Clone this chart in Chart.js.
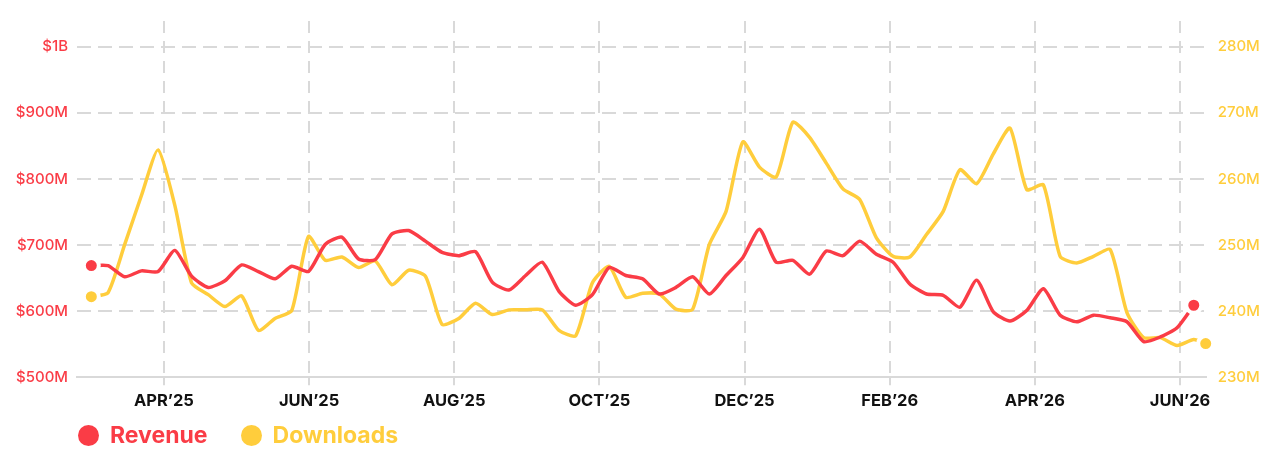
<!DOCTYPE html>
<html>
<head>
<meta charset="utf-8">
<script src="https://cdn.jsdelivr.net/npm/chart.js@4"></script>
<style>
  body { margin: 0; background: #fff; font-family: Inter, sans-serif; }
  #wrap { position: relative; width: 1280px; height: 461px; }
  .legend { position: absolute; left: 78px; top: 421px; display: flex; align-items: center; font: 700 23px Inter, sans-serif; }
  .legend span.dot { width: 21px; height: 21px; border-radius: 50%; display: inline-block; margin-right: 11px; }
  .legend .item { display: flex; align-items: center; margin-right: 33px; }
</style>
</head>
<body>
<div id="wrap">
  <canvas id="chart" width="1280" height="461"></canvas>
  <div class="legend">
    <div class="item" style="color:#FA3C46"><span class="dot" style="background:#FA3C46"></span>Revenue</div>
    <div class="item" style="color:#FFCD3C"><span class="dot" style="background:#FFCD3C"></span>Downloads</div>
  </div>
</div>
<script>
// weekly data, first week starts 2025-03-01
var startDate = '2025-03-01';
var weeks = [
  '2025-03-01','2025-03-08','2025-03-15','2025-03-22','2025-03-29',
  '2025-04-05','2025-04-12','2025-04-19','2025-04-26',
  '2025-05-03','2025-05-10','2025-05-17','2025-05-24','2025-05-31',
  '2025-06-07','2025-06-14','2025-06-21','2025-06-28',
  '2025-07-05','2025-07-12','2025-07-19','2025-07-26',
  '2025-08-02','2025-08-09','2025-08-16','2025-08-23','2025-08-30',
  '2025-09-06','2025-09-13','2025-09-20','2025-09-27',
  '2025-10-04','2025-10-11','2025-10-18','2025-10-25',
  '2025-11-01','2025-11-08','2025-11-15','2025-11-22','2025-11-29',
  '2025-12-06','2025-12-13','2025-12-20','2025-12-27',
  '2026-01-03','2026-01-10','2026-01-17','2026-01-24','2026-01-31',
  '2026-02-07','2026-02-14','2026-02-21','2026-02-28',
  '2026-03-07','2026-03-14','2026-03-21','2026-03-28',
  '2026-04-04','2026-04-11','2026-04-18','2026-04-25',
  '2026-05-02','2026-05-09','2026-05-16','2026-05-23','2026-05-30',
  '2026-06-06'
];

// revenue in $M
var revenue = [
  669, 669, 652, 661, 660, 692, 653, 636, 646, 670,
  660, 649, 668, 660, 701, 712, 679, 678, 717, 722,
  706, 689, 684, 690, 644, 632, 654, 674, 630, 609,
  625, 666, 654, 649, 626, 636, 652, 626, 654, 681,
  724, 674, 677, 656, 691, 684, 706, 686, 674, 641,
  626, 624, 606, 647, 599, 585, 601, 634, 594, 584,
  594, 590, 584, 554, 561, 575, 609
];

// downloads in M
var downloads = [
  242.2, 242.8, 250.1, 257.5, 264.4, 256.0, 244.3, 242.5, 240.7, 242.3,
  237.1, 238.9, 240.1, 251.3, 247.7, 248.2, 246.6, 247.6, 244.0, 246.2,
  245.3, 238.0, 238.9, 241.2, 239.5, 240.2, 240.2, 240.2, 237.1, 236.3,
  244.3, 246.8, 242.1, 242.7, 242.6, 240.3, 240.3, 250.1, 255.1, 265.6,
  261.8, 260.3, 268.6, 266.3, 262.4, 258.5, 256.9, 251.1, 248.3, 248.2,
  251.6, 255.1, 261.4, 259.3, 263.8, 267.7, 258.4, 259.1, 248.3, 247.3,
  248.3, 249.3, 239.8, 236.0, 236.0, 234.8, 235.7
];
// latest partial week for downloads
var latestDate = '2026-06-11';
var latestDownloads = 235.1;

var tickMonths = ['2025-04','2025-06','2025-08','2025-10','2025-12','2026-02','2026-04','2026-06'];
var tickLabels = ['APR’25','JUN’25','AUG’25','OCT’25','DEC’25','FEB’26','APR’26','JUN’26'];

var revenueTicks = [500, 600, 700, 800, 900, 1000];
var revenueTickLabels = ['$500M', '$600M', '$700M', '$800M', '$900M', '$1B'];
var downloadTicks = [230, 240, 250, 260, 270, 280];
var downloadTickLabels = ['230M', '240M', '250M', '260M', '270M', '280M'];

var RED = '#FA3C46';
var YELLOW = '#FFCD3C';
var GRID = '#d9d9d9';

function dayOf(s) {
  return (Date.parse(s) - Date.parse(startDate)) / 86400000;
}
// months since start month, evenly spaced
function monthPos(ym) {
  var p = ym.split('-');
  var m = (parseInt(p[0]) - 2025) * 12 + (parseInt(p[1]) - 3);
  return m * 365 / 12;
}

var revPoints = revenue.map(function(v, i) { return { x: dayOf(weeks[i]), y: v }; });
var dlPoints = downloads.map(function(v, i) { return { x: dayOf(weeks[i]), y: v }; });
dlPoints.push({ x: dayOf(latestDate), y: latestDownloads });

function endRadius(n) {
  return function(ctx) { return (ctx.dataIndex === 0 || ctx.dataIndex === n - 1) ? 7.5 : 0; };
}

new Chart(document.getElementById('chart'), {
  type: 'line',
  data: {
    datasets: [{
      label: 'Revenue',
      data: revPoints,
      yAxisID: 'y',
      borderColor: RED,
      backgroundColor: RED,
      borderWidth: 3.5,
      tension: 0.2,
      borderJoinStyle: 'round',
      borderCapStyle: 'round',
      clip: false,
      pointRadius: endRadius(revPoints.length),
      pointBackgroundColor: RED,
      pointBorderColor: '#fff',
      pointBorderWidth: 4
    }, {
      label: 'Downloads',
      data: dlPoints,
      yAxisID: 'y2',
      borderColor: YELLOW,
      backgroundColor: YELLOW,
      borderWidth: 3.5,
      tension: 0.2,
      borderJoinStyle: 'round',
      borderCapStyle: 'round',
      clip: false,
      pointRadius: endRadius(dlPoints.length),
      pointBackgroundColor: YELLOW,
      pointBorderColor: '#fff',
      pointBorderWidth: 4
    }]
  },
  options: {
    responsive: false,
    animation: false,
    layout: { padding: { top: 18, left: 0, right: 0, bottom: 0 } },
    plugins: {
      legend: { display: false },
      tooltip: { enabled: false }
    },
    scales: {
      x: {
        type: 'linear',
        min: -6,
        max: dayOf(latestDate),
        afterBuildTicks: function(scale) {
          scale.ticks = tickMonths.map(function(m) { return { value: monthPos(m) }; });
        },
        afterFit: function(scale) { scale.height = 83.7; },
        grid: { color: GRID, lineWidth: 2, drawTicks: true, tickLength: 8 },
        border: { display: true, color: GRID, width: 2, dash: [12, 8] },
        ticks: {
          autoSkip: false,
          maxRotation: 0,
          padding: 6,
          color: '#111',
          font: { family: 'Inter', size: 16.5, weight: '700' },
          callback: function(v, i) { return tickLabels[i]; }
        }
      },
      y: {
        position: 'left',
        min: 500,
        max: 1039,
        afterBuildTicks: function(scale) {
          scale.ticks = revenueTicks.map(function(v) { return { value: v }; });
        },
        afterFit: function(scale) { scale.width = 77; },
        grid: { color: GRID, lineWidth: 2, drawTicks: false },
        border: { display: false, dash: [14, 7] },
        ticks: {
          padding: 9,
          color: RED,
          font: { family: 'Inter', size: 15, weight: '500' },
          callback: function(v, i) { return revenueTickLabels[i]; }
        }
      },
      y2: {
        position: 'right',
        min: 230,
        max: 283.9,
        afterBuildTicks: function(scale) {
          scale.ticks = downloadTicks.map(function(v) { return { value: v }; });
        },
        afterFit: function(scale) { scale.width = 74.3; },
        grid: { display: false, drawTicks: false },
        border: { display: false },
        ticks: {
          padding: 12,
          color: YELLOW,
          font: { family: 'Inter', size: 15, weight: '500' },
          callback: function(v, i) { return downloadTickLabels[i]; }
        }
      }
    }
  }
});
</script>
</body>
</html>
